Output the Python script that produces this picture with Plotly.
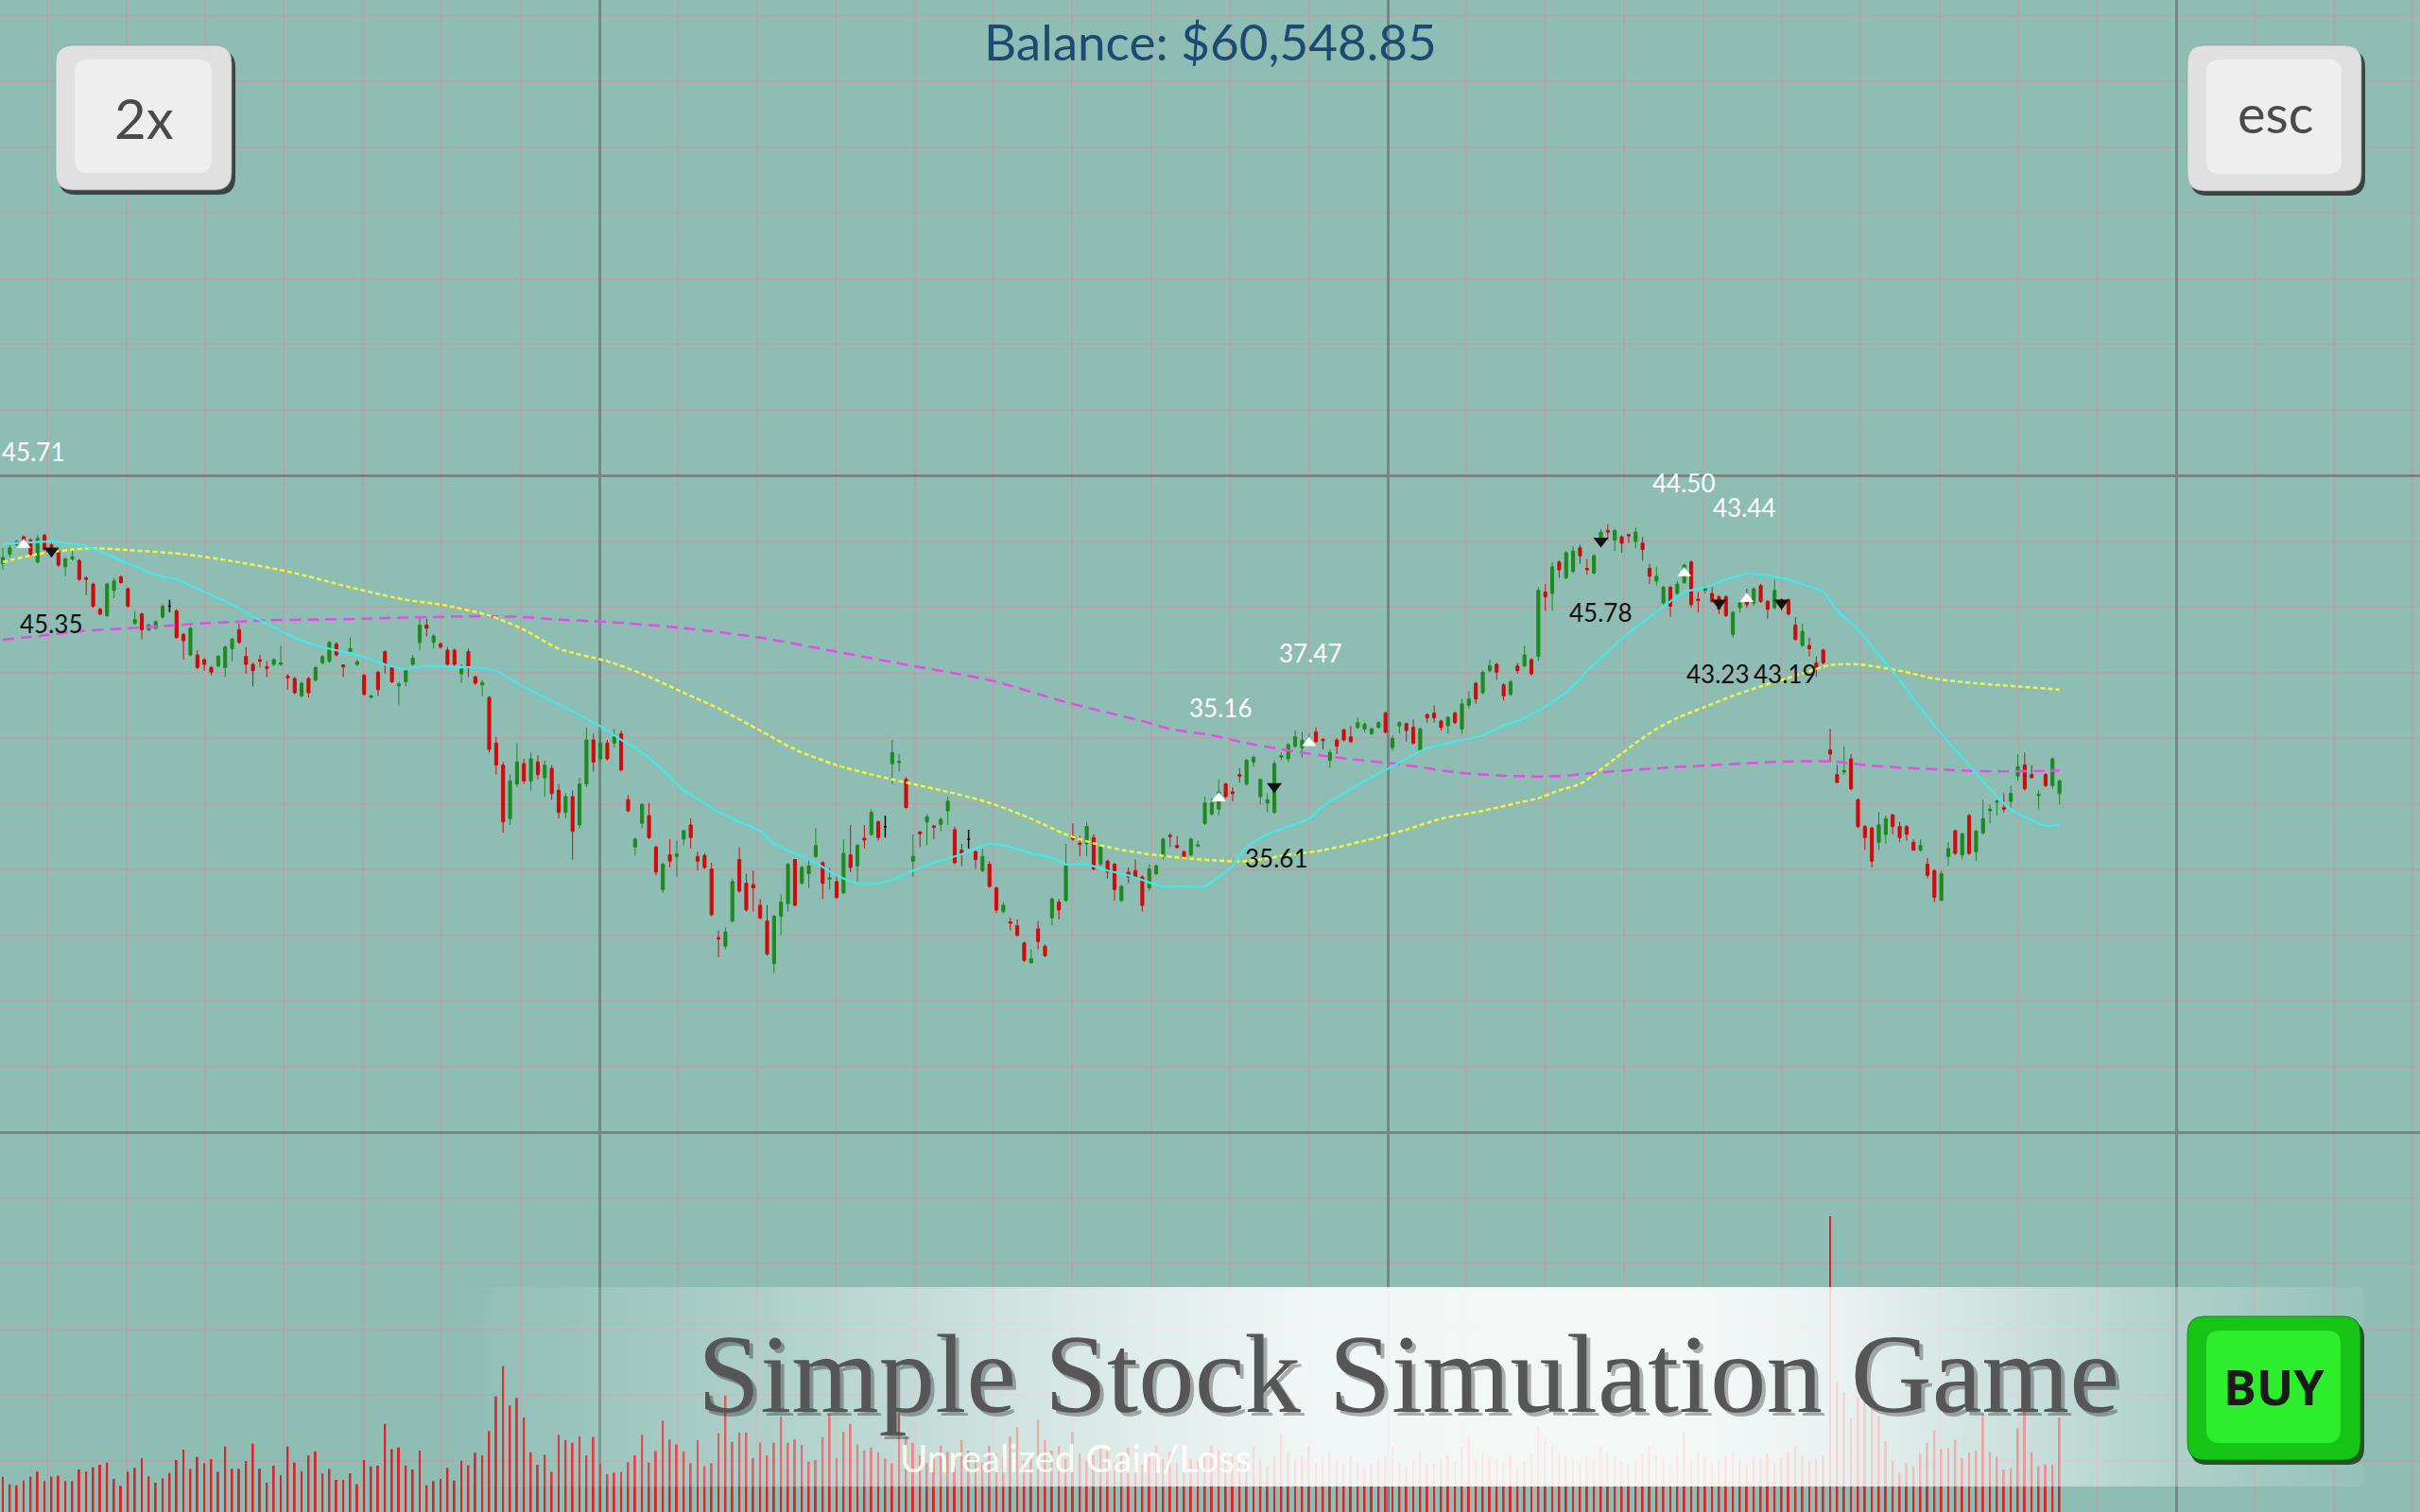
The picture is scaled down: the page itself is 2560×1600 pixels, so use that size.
import plotly.graph_objects as go

# ---------------- data ----------------
opens = [
    45.30, 45.60, 45.90, 46.15, 46.05, 45.35, 46.20, 45.90, 45.70, 45.20,
    45.45, 45.40, 44.85, 44.65, 43.85, 43.65, 44.45, 44.88, 44.50, 43.40,
    43.70, 43.20, 43.25, 43.60, 43.95, 43.80, 43.05, 42.40, 42.40, 42.25,
    42.00, 42.05, 42.00, 42.60, 43.20, 42.35, 42.10, 42.25, 42.02, 42.10,
    42.10, 41.72, 41.65, 41.10, 41.65, 41.60, 42.15, 42.20, 42.75, 42.08,
    42.50, 42.10, 41.75, 41.05, 41.85, 42.50, 42.00, 41.42, 41.55, 42.10,
    42.80, 43.35, 42.80, 42.75, 42.55, 42.55, 41.80, 42.50, 41.70, 41.45,
    41.05, 39.60, 38.90, 37.20, 38.30, 38.95, 38.40, 39.00, 38.50, 38.80,
    38.10, 37.40, 37.90, 37.00, 38.30, 39.70, 39.10, 39.60, 39.60, 39.90,
    37.80, 36.30, 37.05, 37.30, 36.30, 34.95, 36.05, 36.00, 36.55, 37.00,
    36.00, 36.03, 35.60, 33.42, 33.15, 33.95, 35.90, 35.15, 35.10, 34.45,
    33.95, 32.60, 34.10, 34.50, 35.90, 35.15, 35.45, 36.00, 35.80, 35.28,
    35.20, 34.85, 36.05, 35.70, 36.58, 36.70, 37.10, 36.95, 38.95, 38.98,
    38.45, 35.85, 36.78, 37.10, 36.97, 37.02, 37.45, 36.85, 36.20, 36.55,
    36.15, 35.55, 35.75, 35.00, 34.25, 33.92, 33.80, 33.25, 32.62, 33.70,
    33.15, 34.05, 34.55, 34.60, 36.65, 36.42, 36.40, 36.60, 35.75, 35.85,
    35.75, 34.60, 35.50, 35.55, 35.35, 35.00, 35.45, 36.00, 36.67, 36.35,
    36.15, 36.05, 36.33, 37.05, 37.35, 37.50, 38.30, 38.05, 38.60, 38.30,
    39.00, 37.90, 37.70, 37.40, 39.15, 39.10, 39.50, 39.45, 39.65, 39.95,
    39.72, 39.05, 39.70, 40.02, 39.80, 40.10, 40.05, 39.90, 40.10, 40.55,
    39.45, 40.15, 40.22, 40.10, 39.35, 40.50, 40.55, 40.30, 40.15, 40.55,
    40.05, 40.80, 41.50, 41.20, 41.90, 42.10, 41.45, 41.15, 42.05, 42.05,
    42.25, 42.35, 44.40, 44.35, 45.35, 44.85, 45.05, 45.80, 45.15, 45.00,
    46.10, 46.35, 46.05, 46.15, 46.22, 46.00, 45.95, 45.15, 44.75, 44.05,
    44.55, 44.35, 44.70, 45.35, 44.17, 44.45, 44.35, 44.25, 44.25, 43.05,
    43.90, 44.20, 44.05, 44.60, 44.10, 43.90, 44.15, 44.15, 43.35, 42.70,
    42.70, 42.15, 42.55, 39.38, 38.60, 38.68, 39.10, 37.80, 36.95, 36.90,
    36.45, 36.70, 37.32, 36.95, 36.95, 36.45, 36.20, 35.75, 35.55, 34.60,
    36.00, 36.82, 36.05, 37.30, 36.15, 36.75, 37.45, 37.72, 37.55, 37.75,
    38.55, 38.90, 38.60, 37.93, 38.60, 38.25, 38.00,
]
highs = [
    45.80, 45.90, 46.05, 46.20, 46.10, 46.20, 46.25, 45.95, 45.75, 45.50,
    45.75, 45.45, 44.90, 44.70, 43.90, 44.70, 44.85, 44.92, 44.55, 43.80,
    43.75, 43.40, 43.50, 44.00, 44.15, 43.85, 43.10, 43.30, 42.55, 42.30,
    42.05, 42.40, 42.70, 42.95, 43.40, 42.65, 42.15, 42.40, 42.20, 42.30,
    42.70, 41.80, 41.70, 41.55, 41.70, 42.05, 42.40, 42.85, 42.80, 42.10,
    42.95, 42.25, 41.80, 41.15, 41.90, 42.55, 42.05, 41.55, 41.95, 42.40,
    43.60, 43.55, 43.05, 42.80, 42.65, 42.60, 42.10, 42.60, 41.75, 41.60,
    41.10, 39.80, 39.00, 38.60, 39.60, 39.10, 39.30, 39.20, 39.05, 38.90,
    38.30, 38.00, 38.10, 38.50, 40.10, 39.90, 40.00, 39.70, 40.05, 40.00,
    37.95, 36.60, 37.70, 37.70, 36.35, 35.80, 36.55, 36.50, 36.85, 37.20,
    36.15, 36.10, 35.80, 33.65, 33.75, 35.30, 36.30, 35.45, 35.55, 34.65,
    34.45, 34.15, 34.80, 35.80, 35.92, 35.70, 35.95, 36.90, 35.85, 35.65,
    35.40, 36.55, 37.00, 36.40, 37.00, 37.50, 37.15, 37.30, 39.70, 39.25,
    38.52, 36.70, 36.80, 37.35, 37.00, 37.25, 37.90, 36.95, 36.40, 36.85,
    36.20, 36.25, 35.85, 35.05, 34.55, 34.05, 34.00, 33.30, 33.05, 33.95,
    33.20, 34.70, 34.65, 36.40, 37.05, 36.65, 37.10, 36.70, 36.40, 35.90,
    35.80, 35.10, 35.65, 35.90, 35.40, 35.75, 35.75, 36.60, 36.75, 36.65,
    36.18, 36.60, 36.50, 37.90, 37.85, 38.45, 38.35, 38.20, 38.80, 39.10,
    39.20, 38.45, 38.00, 39.05, 39.30, 39.60, 40.00, 39.95, 39.90, 40.10,
    39.75, 39.40, 39.75, 40.05, 40.15, 40.40, 40.25, 40.10, 40.30, 40.60,
    39.85, 40.30, 40.25, 40.35, 40.10, 40.55, 40.80, 40.35, 40.45, 40.60,
    41.00, 41.25, 41.55, 41.90, 42.25, 42.15, 41.50, 41.60, 42.15, 42.70,
    42.30, 44.55, 44.65, 45.35, 45.40, 45.70, 45.85, 45.90, 45.45, 45.60,
    46.40, 46.55, 46.40, 46.20, 46.25, 46.45, 46.15, 45.30, 45.20, 44.60,
    44.60, 44.75, 45.30, 45.40, 44.40, 44.60, 44.55, 44.30, 44.30, 43.80,
    44.10, 44.50, 44.55, 44.65, 44.15, 44.80, 44.20, 44.20, 43.60, 43.40,
    42.95, 42.35, 42.60, 40.05, 38.90, 39.50, 39.25, 37.85, 37.00, 36.95,
    37.42, 37.30, 37.35, 37.10, 37.00, 36.55, 36.55, 35.95, 35.60, 35.55,
    36.45, 36.85, 36.75, 37.35, 36.85, 37.80, 37.65, 37.80, 38.00, 38.25,
    39.25, 39.30, 38.90, 38.10, 38.65, 39.15, 38.45,
]
lows = [
    45.10, 45.50, 45.85, 45.95, 45.55, 45.30, 45.70, 45.50, 45.20, 44.90,
    45.40, 44.75, 44.30, 43.90, 43.65, 43.60, 44.20, 44.65, 43.90, 43.35,
    42.90, 43.15, 43.20, 43.55, 43.75, 42.92, 42.25, 42.35, 41.95, 41.90,
    41.75, 42.00, 41.70, 42.20, 42.75, 41.80, 41.40, 42.00, 41.70, 42.05,
    42.05, 41.30, 41.15, 41.05, 41.05, 41.55, 42.10, 42.15, 42.35, 41.70,
    42.45, 42.05, 41.10, 41.02, 41.10, 41.80, 41.50, 40.80, 41.40, 42.05,
    42.55, 43.00, 42.60, 42.60, 42.00, 42.00, 41.50, 41.70, 41.45, 41.10,
    39.30, 38.60, 36.75, 37.00, 38.20, 38.30, 38.10, 38.45, 37.90, 37.80,
    37.20, 37.20, 35.90, 36.90, 38.20, 38.70, 39.00, 39.05, 39.45, 38.70,
    37.40, 36.05, 36.90, 36.55, 35.40, 34.85, 35.65, 35.35, 36.35, 36.25,
    35.55, 35.60, 34.10, 32.80, 33.05, 33.90, 34.85, 34.25, 34.25, 34.00,
    32.85, 32.30, 33.50, 34.25, 34.42, 35.10, 35.00, 35.95, 34.65, 34.95,
    34.65, 34.80, 35.50, 35.20, 36.25, 36.65, 36.50, 36.60, 38.30, 38.70,
    37.52, 35.35, 36.30, 36.35, 36.55, 36.80, 37.00, 35.75, 35.70, 36.25,
    35.60, 35.50, 35.00, 34.20, 34.20, 33.65, 33.45, 32.65, 32.60, 33.05,
    32.80, 33.80, 34.00, 34.55, 36.50, 36.00, 36.00, 35.55, 35.70, 35.30,
    34.60, 34.55, 35.15, 35.30, 34.25, 34.90, 35.40, 35.90, 36.30, 36.25,
    35.90, 36.00, 36.30, 37.00, 37.30, 37.30, 37.85, 37.75, 38.35, 38.25,
    38.85, 37.65, 37.40, 37.35, 39.05, 39.00, 39.45, 39.15, 39.50, 39.60,
    39.40, 38.80, 39.25, 39.65, 39.60, 40.05, 39.95, 39.85, 40.05, 39.90,
    39.35, 39.90, 39.65, 39.55, 39.30, 40.25, 40.25, 40.00, 39.90, 40.20,
    39.90, 40.70, 40.85, 41.15, 41.85, 41.60, 40.95, 41.10, 41.80, 42.00,
    41.75, 42.20, 43.80, 43.80, 44.85, 44.80, 45.00, 45.30, 44.95, 44.95,
    45.85, 46.05, 45.70, 45.65, 45.95, 45.80, 45.40, 44.65, 44.60, 44.00,
    43.60, 44.30, 44.65, 43.90, 43.75, 44.35, 44.05, 43.70, 43.60, 42.95,
    43.75, 43.90, 43.95, 44.05, 43.55, 43.85, 43.80, 43.65, 42.85, 42.65,
    42.35, 41.70, 42.10, 39.00, 38.35, 38.60, 38.10, 36.90, 36.20, 35.65,
    36.20, 36.40, 36.70, 36.45, 36.50, 36.20, 36.15, 35.30, 34.55, 34.60,
    35.70, 36.05, 35.90, 36.05, 35.85, 36.70, 37.05, 37.30, 37.40, 37.55,
    38.40, 38.10, 38.50, 37.50, 38.20, 38.15, 37.65,
]
closes = [
    45.50, 45.80, 46.00, 46.00, 45.60, 46.10, 45.75, 45.60, 45.25, 45.45,
    45.52, 44.80, 44.80, 43.95, 43.70, 44.65, 44.75, 44.70, 43.95, 43.52,
    43.20, 43.35, 43.45, 43.95, 43.95, 42.95, 42.85, 43.25, 42.00, 42.10,
    41.85, 42.35, 42.65, 42.90, 42.80, 42.10, 41.90, 42.20, 41.98, 42.25,
    42.15, 41.68, 41.20, 41.50, 41.20, 42.00, 42.35, 42.80, 42.40, 42.02,
    42.60, 42.18, 41.15, 41.10, 41.30, 42.10, 41.55, 41.48, 41.90, 42.30,
    43.35, 43.25, 43.00, 42.65, 42.10, 42.10, 41.95, 42.00, 41.50, 41.52,
    39.40, 38.90, 37.10, 38.40, 39.00, 38.40, 39.10, 38.60, 38.90, 38.00,
    37.40, 37.90, 36.80, 38.30, 39.70, 39.00, 39.60, 39.10, 39.80, 38.75,
    37.45, 36.55, 37.65, 36.60, 35.50, 35.75, 35.85, 36.08, 36.82, 36.60,
    35.85, 35.65, 34.15, 33.38, 33.60, 35.20, 34.90, 34.30, 35.00, 34.05,
    32.90, 34.10, 34.55, 35.75, 34.45, 35.65, 35.70, 36.35, 35.15, 35.32,
    34.70, 36.10, 35.65, 36.35, 36.52, 37.40, 36.60, 36.95, 39.30, 39.02,
    37.55, 36.00, 36.72, 37.25, 36.93, 37.18, 37.75, 35.80, 36.10, 36.55,
    35.90, 36.00, 35.05, 34.30, 34.45, 33.88, 33.50, 32.70, 32.75, 33.30,
    32.85, 34.65, 34.30, 35.70, 36.55, 36.38, 36.95, 35.60, 36.30, 35.50,
    34.95, 35.05, 35.35, 35.35, 34.45, 35.60, 35.70, 36.55, 36.63, 36.28,
    35.95, 36.55, 36.37, 37.70, 37.70, 38.05, 37.90, 38.00, 38.55, 39.05,
    39.15, 38.45, 37.80, 38.95, 39.20, 39.55, 39.80, 39.70, 39.72, 39.65,
    39.68, 39.30, 39.50, 39.70, 39.65, 40.25, 40.20, 40.05, 40.25, 39.95,
    39.75, 40.25, 40.00, 39.60, 40.05, 40.40, 40.40, 40.10, 40.42, 40.25,
    40.85, 41.00, 41.00, 41.85, 42.05, 41.85, 41.10, 41.55, 41.90, 42.40,
    41.80, 44.45, 44.25, 45.20, 45.10, 45.65, 45.70, 45.55, 45.10, 45.55,
    46.30, 46.30, 46.35, 45.95, 46.18, 46.30, 45.75, 44.90, 44.90, 44.55,
    43.95, 44.65, 45.25, 44.00, 44.13, 44.52, 44.10, 43.85, 43.65, 43.75,
    44.05, 44.00, 44.50, 44.10, 43.85, 44.45, 43.90, 43.70, 42.90, 43.15,
    42.60, 42.00, 42.15, 39.25, 38.35, 38.72, 38.15, 36.95, 36.60, 35.85,
    37.00, 37.20, 36.95, 36.60, 36.70, 36.20, 36.35, 35.40, 34.70, 35.45,
    36.25, 36.10, 36.72, 36.10, 36.80, 37.20, 37.50, 37.75, 37.50, 38.00,
    38.85, 38.15, 38.50, 37.97, 38.25, 39.10, 38.40,
]
volumes = [
    373, 293, 283, 333, 373, 427, 327, 373, 383, 327,
    327, 450, 427, 473, 500, 523, 350, 277, 427, 467,
    567, 377, 310, 357, 413, 550, 660, 457, 583, 517,
    560, 427, 693, 457, 457, 540, 723, 457, 310, 490,
    390, 693, 523, 433, 600, 640, 407, 457, 340, 340,
    410, 293, 550, 483, 490, 933, 667, 683, 493, 450,
    650, 283, 327, 350, 467, 333, 543, 493, 627, 600,
    857, 1223, 1543, 1127, 1207, 1000, 633, 500, 607, 427,
    817, 760, 733, 800, 600, 793, 507, 400, 417, 427,
    527, 600, 817, 523, 643, 967, 767, 717, 640, 517,
    760, 483, 517, 833, 1233, 743, 840, 840, 567, 733,
    600, 733, 1007, 733, 767, 713, 533, 550, 793, 1033,
    567, 850, 933, 717, 650, 683, 633, 567, 517, 1050,
    800, 733, 600, 520, 560, 700, 640, 480, 760, 650,
    560, 520, 700, 620, 580, 800, 900, 540, 600, 980,
    760, 650, 700, 560, 850, 620, 540, 600, 700, 640,
    520, 600, 680, 560, 500, 620, 700, 560, 640, 520,
    480, 560, 540, 600, 700, 650, 580, 620, 520, 560,
    700, 560, 480, 600, 820, 640, 560, 600, 700, 520,
    580, 640, 560, 500, 600, 540, 480, 520, 560, 600,
    700, 520, 480, 560, 640, 520, 500, 560, 600, 540,
    700, 800, 560, 620, 580, 560, 520, 600, 480, 540,
    620, 900, 760, 700, 640, 600, 560, 520, 600, 560,
    700, 640, 580, 540, 500, 560, 620, 700, 600, 560,
    520, 600, 833, 560, 640, 580, 520, 560, 600, 640,
    560, 520, 600, 560, 620, 520, 580, 640, 700, 600,
    540, 560, 600, 3130, 1383, 1267, 1000, 1217, 1200, 1100,
    1017, 750, 550, 417, 517, 483, 617, 733, 867, 667,
    683, 767, 567, 633, 650, 1033, 633, 583, 450, 467,
    883, 1367, 633, 483, 500, 500, 1000,
]

ma_short_day = [0, 7, 12, 16, 22, 25, 28, 33, 37, 42, 46, 51, 55, 58, 61, 65, 68, 71, 74, 78,
                83, 87, 89, 92, 95, 98, 101, 103, 106, 109, 111, 114, 117, 120, 123, 126, 128,
                131, 134, 137, 139, 142, 145, 148, 151, 153, 156, 159, 162, 164, 167, 170, 173,
                175, 177, 179, 182, 185, 188, 190, 193, 196, 199, 202, 204, 207, 210, 213, 216,
                218, 220, 223, 226, 228, 231, 234, 237, 240, 242, 245, 248, 251, 253, 256, 259,
                262, 264, 267, 270, 273, 276, 279, 283, 285, 287, 289, 292, 294, 296]
ma_short_val = [45.92, 46.0, 45.85, 45.5, 44.95, 44.8, 44.5, 44.0, 43.5, 42.95, 42.65, 42.4, 42.1,
                41.95, 42.05, 42.02, 42.0, 41.9, 41.5, 41.05, 40.5, 40.0, 39.7, 39.3, 38.75, 38.1,
                37.7, 37.4, 37.1, 36.8, 36.4, 36.1, 35.8, 35.4, 35.15, 35.15, 35.25, 35.55, 35.8,
                36.0, 36.15, 36.4, 36.3, 36.1, 35.95, 35.75, 35.75, 35.55, 35.4, 35.25, 35.05,
                35.05, 35.05, 35.35, 35.7, 36.3, 36.7, 36.95, 37.2, 37.6, 38.0, 38.4, 38.75, 39.1,
                39.35, 39.55, 39.7, 39.85, 40.15, 40.3, 40.5, 40.9, 41.4, 41.9, 42.5, 43.1, 43.6,
                44.1, 44.4, 44.55, 44.8, 44.98, 44.95, 44.85, 44.65, 44.4, 43.8, 43.2, 42.4, 41.6,
                40.7, 39.9, 38.9, 38.4, 37.9, 37.5, 37.15, 36.98, 37.0]

ma_mid_day = [0, 5, 12, 18, 26, 33, 41, 50, 58, 63, 70, 75, 80, 87, 92, 98, 103, 109, 114, 120,
              126, 131, 137, 142, 148, 153, 159, 164, 170, 174, 179, 185, 190, 196, 202, 207,
              213, 218, 221, 224, 227, 229, 232, 235, 238, 241, 245, 249, 253, 256, 261, 263,
              267, 273, 278, 284, 290, 296]
ma_mid_val = [45.35, 45.6, 45.78, 45.73, 45.6, 45.38, 45.05, 44.55, 44.15, 44.0, 43.65, 43.2, 42.6,
              42.2, 41.8, 41.2, 40.7, 40.0, 39.4, 38.9, 38.55, 38.3, 38.0, 37.7, 37.2, 36.7, 36.3,
              36.1, 35.95, 35.88, 35.85, 36.05, 36.2, 36.5, 36.85, 37.2, 37.45, 37.7, 37.85, 38.1,
              38.3, 38.6, 39.1, 39.6, 40.05, 40.4, 40.75, 41.1, 41.4, 41.6, 41.95, 42.08, 42.1,
              41.9, 41.65, 41.5, 41.4, 41.3]

ma_long_day = [0, 5, 11, 16, 22, 27, 33, 38, 44, 52, 61, 69, 75, 80, 87, 98, 109, 120, 131, 142,
               153, 164, 168, 174, 179, 190, 202, 210, 218, 224, 229, 238, 246, 255, 263, 269,
               278, 287, 296]
ma_long_val = [42.88, 43.0, 43.15, 43.22, 43.3, 43.38, 43.45, 43.5, 43.52, 43.55, 43.6, 43.63, 43.6,
               43.52, 43.45, 43.25, 42.95, 42.5, 42.05, 41.6, 40.9, 40.3, 40.05, 39.85, 39.6, 39.2,
               38.9, 38.65, 38.55, 38.55, 38.65, 38.8, 38.9, 39.0, 39.02, 38.88, 38.77, 38.7, 38.73]

buy_days = [3, 175, 188, 242, 251]
buy_prices = [45.90, 37.85, 39.60, 45.00, 44.18]
sell_days = [7, 183, 230, 247, 256]
sell_prices = [45.70, 38.22, 46.02, 44.05, 44.05]

buy_label_text = ["45.71", "35.16", "37.47", "44.50", "43.44"]
buy_label_day = [4.3, 175.3, 188.2, 241.9, 250.6]
buy_label_price = [48.85, 40.71, 42.47, 47.86, 47.08]
sell_label_text = ["45.35", "35.61", "45.78", "43.23", "43.19"]
sell_label_day = [7.0, 183.3, 229.9, 246.8, 256.4]
sell_label_price = [43.40, 35.95, 43.75, 41.79, 41.79]

balance_text = "Balance: $60,548.85"
title_text = "Simple Stock Simulation Game"
gain_text = "Unrealized Gain/Loss"

# ---------------- styling ----------------
BG = "#8EBDB4"
MINOR = "#B0A7AB"
MAJOR = "#7C8483"
RED = "#D10A0A"
GREEN = "#1E8A1E"

N = len(closes)
assert len(opens) == N and len(highs) == N and len(lows) == N and len(volumes) == N
days = list(range(N))

fig = go.Figure()

# volume bars
fig.add_trace(go.Bar(x=days, y=volumes, yaxis="y2", width=0.27,
                     marker=dict(color="#D8262C", line=dict(width=0)),
                     hoverinfo="skip", showlegend=False))

# moving averages
fig.add_trace(go.Scatter(x=ma_long_day, y=ma_long_val, mode="lines",
                         line=dict(color="#E64CE6", width=2.5, dash="12px,7px", shape="spline", smoothing=0.8),
                         hoverinfo="skip", showlegend=False))
fig.add_trace(go.Scatter(x=ma_mid_day, y=ma_mid_val, mode="lines",
                         line=dict(color="#F4F43C", width=2.5, dash="5px,3px", shape="spline", smoothing=0.8),
                         hoverinfo="skip", showlegend=False))
fig.add_trace(go.Scatter(x=ma_short_day, y=ma_short_val, mode="lines",
                         line=dict(color="#44E8E8", width=2.2, shape="spline", smoothing=0.7),
                         hoverinfo="skip", showlegend=False))

# candles
norm = [i for i in days if opens[i] != closes[i]]
doji = [i for i in days if opens[i] == closes[i]]
fig.add_trace(go.Candlestick(
    x=[days[i] for i in norm], open=[opens[i] for i in norm], high=[highs[i] for i in norm],
    low=[lows[i] for i in norm], close=[closes[i] for i in norm],
    increasing=dict(line=dict(color=GREEN, width=1), fillcolor=GREEN),
    decreasing=dict(line=dict(color=RED, width=1), fillcolor=RED),
    whiskerwidth=0, hoverinfo="skip", showlegend=False))
fig.add_trace(go.Candlestick(
    x=[days[i] for i in doji], open=[opens[i] for i in doji], high=[highs[i] for i in doji],
    low=[lows[i] for i in doji], close=[closes[i] for i in doji],
    increasing=dict(line=dict(color="#111111", width=1.5), fillcolor="#111111"),
    decreasing=dict(line=dict(color="#111111", width=1.5), fillcolor="#111111"),
    whiskerwidth=0, hoverinfo="skip", showlegend=False))

# trade markers
fig.add_trace(go.Scatter(x=buy_days, y=buy_prices, mode="markers",
                         marker=dict(symbol="triangle-up", size=13, color="white", line=dict(width=0)),
                         hoverinfo="skip", showlegend=False))
fig.add_trace(go.Scatter(x=sell_days, y=sell_prices, mode="markers",
                         marker=dict(symbol="triangle-down", size=14, color="#111111", line=dict(width=0)),
                         hoverinfo="skip", showlegend=False))

# decoration layer (pixel coordinates)
fig.add_trace(go.Scatter(x=[952], y=[1548], xaxis="x3", yaxis="y3", mode="text", text=[gain_text],
                         textposition="middle right",
                         textfont=dict(family="Lato", size=40, color="rgba(255,252,226,0.95)"),
                         hoverinfo="skip", showlegend=False))
fig.add_trace(go.Scatter(x=[470, 2500, 2500, 470, 470], y=[1362, 1362, 1573, 1573, 1362],
                         xaxis="x3", yaxis="y3", mode="none", fill="toself",
                         fillgradient=dict(type="horizontal", colorscale=[
                             [0.0, "rgba(255,255,255,0.0)"],
                             [0.064, "rgba(255,255,255,0.10)"],
                             [0.163, "rgba(255,255,255,0.28)"],
                             [0.261, "rgba(255,255,255,0.50)"],
                             [0.36, "rgba(255,255,255,0.72)"],
                             [0.458, "rgba(255,255,255,0.88)"],
                             [0.655, "rgba(255,255,255,0.90)"],
                             [0.729, "rgba(255,255,255,0.80)"],
                             [0.803, "rgba(255,255,255,0.58)"],
                             [0.877, "rgba(255,255,255,0.36)"],
                             [0.951, "rgba(255,255,255,0.18)"],
                             [1.0, "rgba(255,255,255,0.06)"]]),
                         hoverinfo="skip", showlegend=False))


def rrect(x0, y0, x1, y1, r):
    return (f"M{x0 + r},{y0} L{x1 - r},{y0} Q{x1},{y0} {x1},{y0 + r} L{x1},{y1 - r} "
            f"Q{x1},{y1} {x1 - r},{y1} L{x0 + r},{y1} Q{x0},{y1} {x0},{y1 - r} "
            f"L{x0},{y0 + r} Q{x0},{y0} {x0 + r},{y0} Z")


shapes = []


def key(x0, y0, x1, y1, shadow, rim, face, rimline):
    shapes.append(dict(type="path", xref="x3", yref="y3", layer="above",
                       path=rrect(x0 + 3, y0 + 5, x1 + 4, y1 + 5, 18),
                       fillcolor=shadow, line=dict(width=0)))
    shapes.append(dict(type="path", xref="x3", yref="y3", layer="above",
                       path=rrect(x0, y0, x1, y1, 18),
                       fillcolor=rim, line=dict(width=1, color=rimline)))
    shapes.append(dict(type="path", xref="x3", yref="y3", layer="above",
                       path=rrect(x0 + 20, y0 + 15, x1 - 21, y1 - 18, 14),
                       fillcolor=face, line=dict(width=0)))


key(59, 48, 245, 201, "rgba(30,30,30,0.75)", "#E0E0E0", "#EEEEEE", "rgba(160,160,160,0.7)")
key(2314, 48, 2498, 202, "rgba(30,30,30,0.75)", "#E0E0E0", "#EEEEEE", "rgba(160,160,160,0.7)")
key(2314, 1393, 2497, 1545, "rgba(20,60,20,0.85)", "#16C416", "#2CEE2C", "rgba(10,120,10,0.8)")

annotations = []
for t, d, p in zip(buy_label_text, buy_label_day, buy_label_price):
    annotations.append(dict(x=d, y=p, xref="x", yref="y", text=t, showarrow=False,
                            font=dict(family="Lato", size=26, color="white")))
for t, d, p in zip(sell_label_text, sell_label_day, sell_label_price):
    annotations.append(dict(x=d, y=p, xref="x", yref="y", text=t, showarrow=False,
                            font=dict(family="Lato", size=26, color="#111111")))

annotations += [
    dict(x=1280, y=43, xref="x3", yref="y3", text=balance_text, showarrow=False,
         font=dict(family="Lato", size=53, color="#1D4A72")),
    dict(x=152, y=124, xref="x3", yref="y3", text="2x", showarrow=False,
         font=dict(family="Lato", size=58, color="#4A4A4A")),
    dict(x=2407, y=119, xref="x3", yref="y3", text="esc", showarrow=False,
         font=dict(family="Lato", size=56, color="#4A4A4A")),
    dict(x=2405, y=1466, xref="x3", yref="y3", text="<b>BUY</b>", showarrow=False,
         font=dict(family="Open Sans", size=52, color="#1A1A1A")),
    dict(x=1494, y=1458, xref="x3", yref="y3", text=title_text, showarrow=False,
         font=dict(family="Liberation Serif", size=119, color="rgba(0,0,0,0.30)")),
    dict(x=1490, y=1454, xref="x3", yref="y3", text=title_text, showarrow=False,
         font=dict(family="Liberation Serif", size=119, color="#565656")),
]

fig.update_layout(
    width=2560, height=1600, margin=dict(l=0, r=0, t=0, b=0, pad=0),
    paper_bgcolor=BG, plot_bgcolor=BG, showlegend=False, hovermode=False,
    boxgap=0.4,
    xaxis=dict(range=[-0.4082, 347.89], showgrid=True, gridcolor=MAJOR, gridwidth=2.5,
               tick0=85.85, dtick=113.469,
               minor=dict(tick0=6.4217, dtick=11.3469, showgrid=True, gridcolor=MINOR, gridwidth=2),
               showticklabels=False, ticks="", zeroline=False, showline=False,
               rangeslider=dict(visible=False), fixedrange=True),
    yaxis=dict(range=[15.18, 63.2], showgrid=True, gridcolor=MAJOR, gridwidth=2.5,
               tick0=48.103, dtick=20.859,
               minor=dict(tick0=48.103, dtick=2.0859, showgrid=True, gridcolor=MINOR, gridwidth=2),
               showticklabels=False, ticks="", zeroline=False, showline=False, fixedrange=True),
    yaxis2=dict(overlaying="y", range=[0, 16000], visible=False, fixedrange=True),
    xaxis3=dict(overlaying="x", range=[0, 2560], visible=False, anchor="y3", fixedrange=True),
    yaxis3=dict(overlaying="y", range=[1600, 0], visible=False, anchor="x3", fixedrange=True),
    shapes=shapes,
    annotations=annotations,
)

fig.write_html("out.html", config={"displayModeBar": False})
